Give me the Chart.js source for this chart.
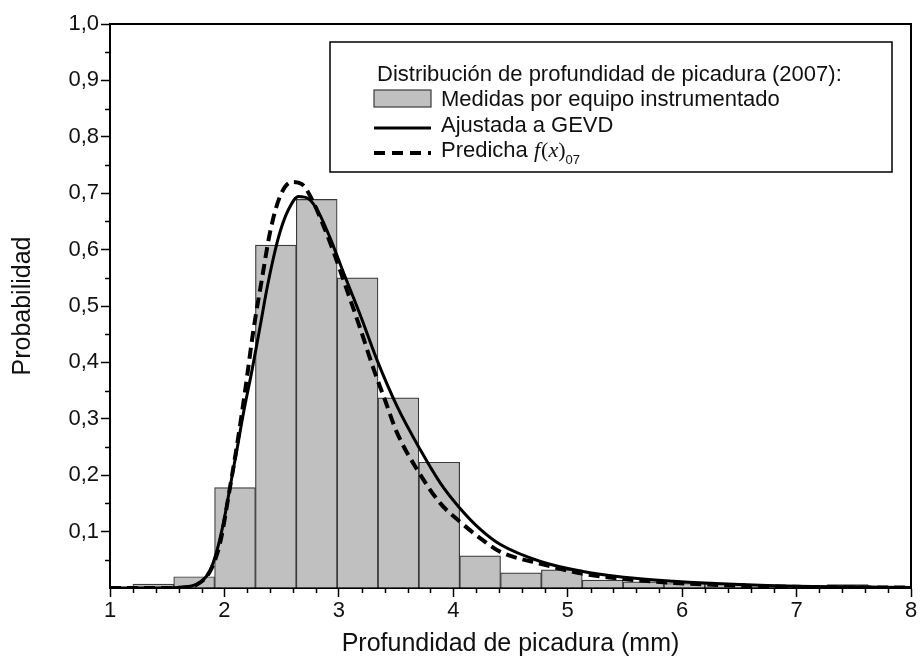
<!DOCTYPE html>
<html lang="es">
<head>
  <meta charset="UTF-8" />
  <title>Distribución de profundidad de picadura (2007)</title>
  <script src="https://cdn.jsdelivr.net/npm/chart.js@4.4.1/dist/chart.umd.min.js"></script>
  <style>
    html, body {margin: 0; padding: 0; background: #fff;}
    #chart {display: block;}
  </style>
</head>
<body>
  <canvas id="chart" width="922" height="659"></canvas>

  <script>
    // histogram bins (mm) and measured probability per bin
    const binEdges = [1.2, 1.557, 1.914, 2.271, 2.628, 2.985, 3.342, 3.699, 4.056, 4.413,
                      4.77, 5.127, 5.484, 5.841, 6.198, 6.555, 6.912, 7.269, 7.626];
    const measured = [0.007, 0.020, 0.178, 0.608, 0.689, 0.550, 0.337, 0.223, 0.057,
                      0.027, 0.032, 0.014, 0.011, 0.008, 0.008, 0.001, 0.001, 0.006];

    // GEVD fit
    const fitX = [1.0, 1.4, 1.6, 1.70, 1.787, 1.875, 1.934, 1.991, 2.05, 2.109, 2.166, 2.24,
                  2.312, 2.371, 2.429, 2.487, 2.56, 2.648, 2.735, 2.823, 2.925, 3.041, 3.187,
                  3.334, 3.509, 3.712, 3.887, 4.056, 4.237, 4.412, 4.762, 5.112, 5.489, 5.926,
                  6.5, 7.0, 7.5, 8.0];
    const fitY = [0, 0, 0.001, 0.003, 0.010, 0.031, 0.066, 0.115, 0.180, 0.245, 0.310, 0.385,
                  0.464, 0.530, 0.586, 0.632, 0.671, 0.694, 0.690, 0.666, 0.620, 0.559, 0.484,
                  0.404, 0.322, 0.245, 0.186, 0.142, 0.104, 0.077, 0.047, 0.030, 0.019, 0.012,
                  0.006, 0.003, 0.002, 0.001];

    // predicted f(x)07
    const predX = [1.0, 1.5, 1.65, 1.759, 1.875, 1.962, 2.05, 2.109, 2.181, 2.254, 2.327, 2.40,
                   2.487, 2.59, 2.677, 2.765, 2.866, 2.954, 3.071, 3.187, 3.304, 3.40, 3.509,
                   3.684, 3.887, 4.056, 4.237, 4.412, 4.762, 5.112, 5.489, 5.926, 6.5, 7.0,
                   7.5, 8.0];
    const predY = [0, 0, 0.001, 0.006, 0.030, 0.080, 0.180, 0.252, 0.350, 0.458, 0.547, 0.632,
                   0.695, 0.720, 0.716, 0.689, 0.642, 0.596, 0.528, 0.460, 0.388, 0.335, 0.275,
                   0.210, 0.150, 0.118, 0.088, 0.064, 0.043, 0.026, 0.016, 0.009, 0.004, 0.002,
                   0.001, 0.001];

    const xTicks = [1, 2, 3, 4, 5, 6, 7, 8];

    const FONT = "'Liberation Sans', Arial, sans-serif";
    const INK = "#111";
    const BAR_FILL = "#c0c0c0";
    const BAR_EDGE = "#3a3a3a";

    const bars = measured.map((v, i) => ({x: (binEdges[i] + binEdges[i + 1]) / 2, y: v}));
    const fitPts = fitX.map((x, i) => ({x, y: fitY[i]}));
    const predPts = predX.map((x, i) => ({x, y: predY[i]}));

    // top/right frame plus minor ticks
    const framePlugin = {
      id: "frame",
      afterDraw(chart) {
        const {ctx, chartArea: a, scales: {x, y}} = chart;
        ctx.save();
        ctx.strokeStyle = "#000";
        ctx.lineWidth = 2;
        ctx.beginPath();
        ctx.moveTo(a.left, a.top);
        ctx.lineTo(a.right, a.top);
        ctx.lineTo(a.right, a.bottom);
        ctx.stroke();

        ctx.lineWidth = 1.5;
        ctx.beginPath();
        for (let v = 1.2; v < 8; v += 0.2) {
          if (Math.abs(v - Math.round(v)) < 1e-6) continue;
          const px = Math.round(x.getPixelForValue(v)) + 0.5;
          ctx.moveTo(px, a.bottom);
          ctx.lineTo(px, a.bottom + 5);
        }
        for (let v = 0.05; v < 1; v += 0.1) {
          const py = Math.round(y.getPixelForValue(v)) + 0.5;
          ctx.moveTo(a.left, py);
          ctx.lineTo(a.left - 5, py);
        }
        ctx.stroke();
        ctx.restore();
      }
    };

    // boxed legend with title and f(x)07 label
    const legendPlugin = {
      id: "boxLegend",
      afterDraw(chart) {
        const ctx = chart.ctx;
        ctx.save();
        ctx.fillStyle = "#fff";
        ctx.fillRect(330, 42, 562, 130);
        ctx.strokeStyle = "#000";
        ctx.lineWidth = 1.5;
        ctx.strokeRect(330, 42, 562, 130);

        ctx.fillStyle = INK;
        ctx.textBaseline = "middle";
        ctx.font = "22px " + FONT;
        ctx.fillText("Distribución de profundidad de picadura (2007):", 377, 75);

        ctx.fillStyle = BAR_FILL;
        ctx.fillRect(374, 90, 57, 17);
        ctx.strokeStyle = BAR_EDGE;
        ctx.lineWidth = 1.2;
        ctx.strokeRect(374, 90, 57, 17);
        ctx.fillStyle = INK;
        ctx.fillText("Medidas por equipo instrumentado", 441, 100);

        ctx.strokeStyle = "#000";
        ctx.lineWidth = 3;
        ctx.beginPath();
        ctx.moveTo(374, 128);
        ctx.lineTo(431, 128);
        ctx.stroke();
        ctx.fillText("Ajustada a GEVD", 441, 126);

        ctx.lineWidth = 4;
        ctx.setLineDash([11, 7]);
        ctx.beginPath();
        ctx.moveTo(374, 153);
        ctx.lineTo(431, 153);
        ctx.stroke();
        ctx.setLineDash([]);

        let tx = 441;
        ctx.fillText("Predicha ", tx, 151);
        tx += ctx.measureText("Predicha ").width;
        ctx.font = "italic 22px 'Liberation Serif', 'Times New Roman', serif";
        ctx.fillText("f", tx, 151);
        tx += ctx.measureText("f").width + 1;
        ctx.font = "22px 'Liberation Serif', 'Times New Roman', serif";
        ctx.fillText("(", tx, 151);
        tx += ctx.measureText("(").width;
        ctx.font = "italic 22px 'Liberation Serif', 'Times New Roman', serif";
        ctx.fillText("x", tx, 151);
        tx += ctx.measureText("x").width;
        ctx.font = "22px 'Liberation Serif', 'Times New Roman', serif";
        ctx.fillText(")", tx, 151);
        tx += ctx.measureText(")").width;
        ctx.font = "13px " + FONT;
        ctx.fillText("07", tx, 160);
        ctx.restore();
      }
    };

    new Chart(document.getElementById("chart"), {
      type: "bar",
      data: {
        datasets: [
          {
            type: "line",
            label: "Predicha f(x)07",
            data: predPts,
            borderColor: "#000",
            borderWidth: 4,
            borderDash: [11, 6],
            pointRadius: 0,
            fill: false,
            cubicInterpolationMode: "monotone",
            order: 1
          },
          {
            type: "line",
            label: "Ajustada a GEVD",
            data: fitPts,
            borderColor: "#000",
            borderWidth: 3,
            pointRadius: 0,
            fill: false,
            cubicInterpolationMode: "monotone",
            order: 2
          },
          {
            type: "bar",
            label: "Medidas por equipo instrumentado",
            data: bars,
            backgroundColor: BAR_FILL,
            borderColor: BAR_EDGE,
            borderWidth: 1.2,
            barPercentage: 1,
            categoryPercentage: 1,
            order: 3
          }
        ]
      },
      options: {
        responsive: false,
        animation: false,
        devicePixelRatio: 1,
        layout: {padding: {top: 24, right: 11, left: 0, bottom: 0}},
        plugins: {
          legend: {display: false},
          tooltip: {enabled: false}
        },
        scales: {
          x: {
            type: "linear",
            min: 1,
            max: 8,
            offset: false,
            afterBuildTicks: (s) => { s.ticks = xTicks.map(v => ({value: v})); },
            afterFit: (s) => { s.height = 71; },
            grid: {drawOnChartArea: false, offset: false, tickLength: 9, tickColor: "#000", tickWidth: 1.5},
            border: {color: "#000", width: 2},
            ticks: {
              autoSkip: false,
              maxRotation: 0,
              padding: 1,
              color: INK,
              font: {family: FONT, size: 22},
              callback: (v) => String(v)
            },
            title: {
              display: true,
              text: "Profundidad de picadura (mm)",
              color: INK,
              font: {family: FONT, size: 25},
              padding: {top: 5, bottom: 0}
            }
          },
          y: {
            min: 0,
            max: 1,
            afterFit: (s) => { s.width = 110; },
            grid: {
              drawOnChartArea: false,
              tickLength: 9,
              tickWidth: 1.5,
              tickColor: (c) => (c.tick && c.tick.value === 0 ? "rgba(0,0,0,0)" : "#000")
            },
            border: {color: "#000", width: 2},
            ticks: {
              stepSize: 0.1,
              padding: 2,
              color: INK,
              font: {family: FONT, size: 22},
              callback: (v) => (v === 0 ? "" : v.toFixed(1).replace(".", ","))
            },
            title: {
              display: true,
              text: "Probabilidad",
              color: INK,
              font: {family: FONT, size: 25},
              padding: {top: 8, bottom: 0}
            }
          }
        }
      },
      plugins: [framePlugin, legendPlugin]
    });
  </script>
</body>
</html>
